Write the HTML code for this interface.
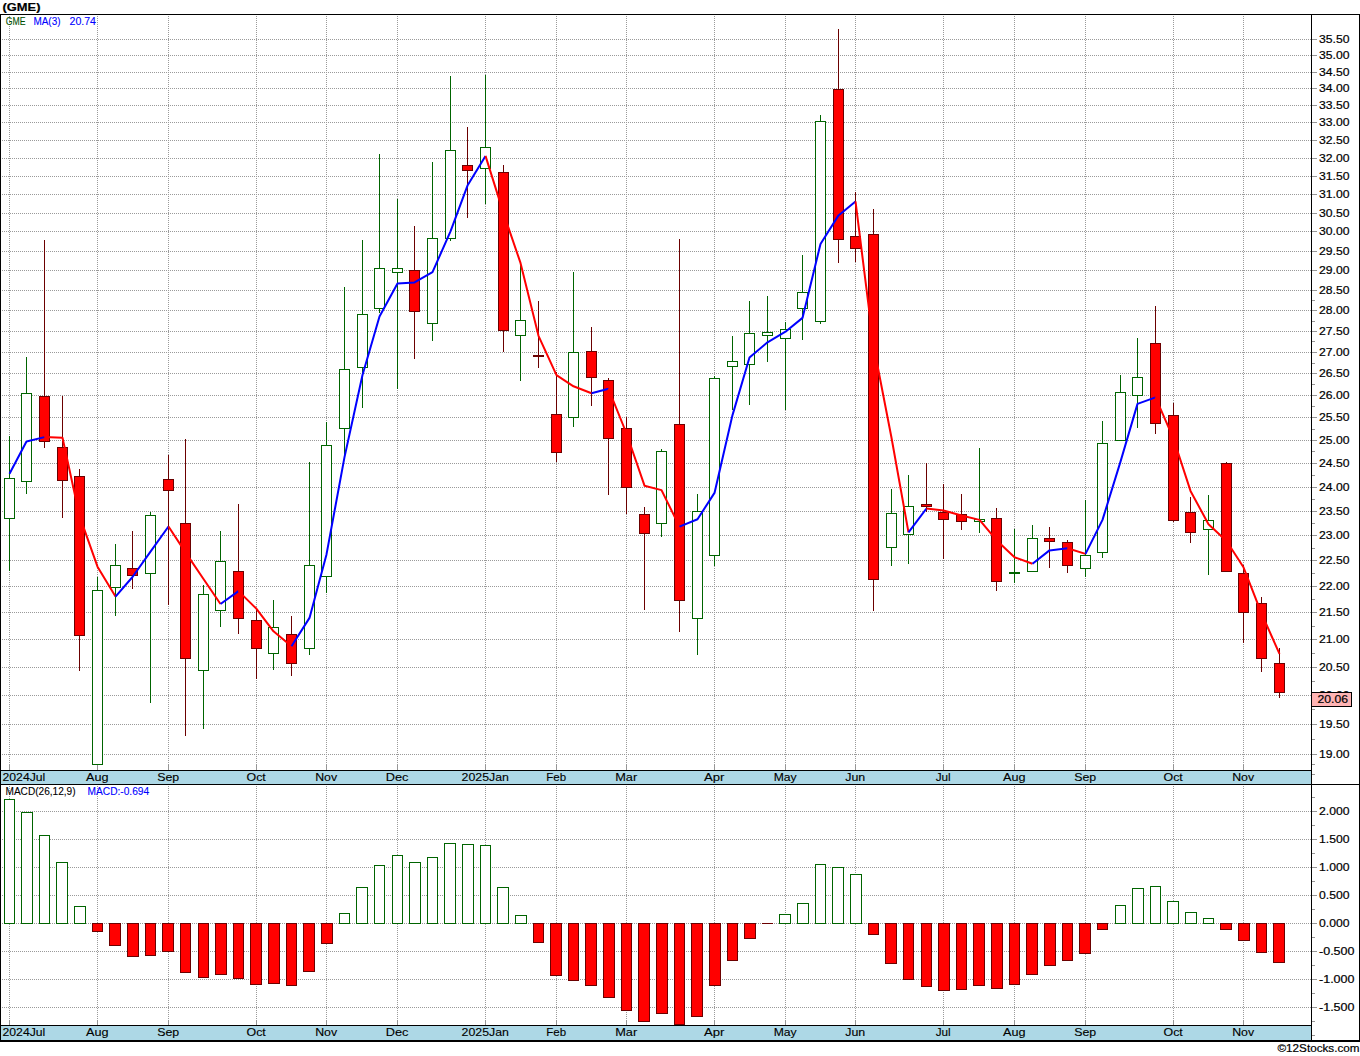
<!DOCTYPE html>
<html>
<head>
<meta charset="utf-8">
<title>GME chart</title>
<style>
html,body{margin:0;padding:0;background:#fff;}
body{width:1360px;height:1056px;overflow:hidden;}
svg{display:block;font-family:"Liberation Sans",sans-serif;}
.d{stroke:#9a9a9a;stroke-width:1;stroke-dasharray:1 1;fill:none;}
</style>
</head>
<body>
<svg width="1360" height="1056" viewBox="0 0 1360 1056">
<rect x="0" y="0" width="1360" height="1056" fill="#fff"/>
<g shape-rendering="crispEdges">
<line x1="2" y1="754.5" x2="1311" y2="754.5" class="d"/>
<line x1="2" y1="724.5" x2="1311" y2="724.5" class="d"/>
<line x1="2" y1="695.5" x2="1311" y2="695.5" class="d"/>
<line x1="2" y1="667.5" x2="1311" y2="667.5" class="d"/>
<line x1="2" y1="639.5" x2="1311" y2="639.5" class="d"/>
<line x1="2" y1="612.5" x2="1311" y2="612.5" class="d"/>
<line x1="2" y1="586.5" x2="1311" y2="586.5" class="d"/>
<line x1="2" y1="560.5" x2="1311" y2="560.5" class="d"/>
<line x1="2" y1="535.5" x2="1311" y2="535.5" class="d"/>
<line x1="2" y1="511.5" x2="1311" y2="511.5" class="d"/>
<line x1="2" y1="487.5" x2="1311" y2="487.5" class="d"/>
<line x1="2" y1="463.5" x2="1311" y2="463.5" class="d"/>
<line x1="2" y1="440.5" x2="1311" y2="440.5" class="d"/>
<line x1="2" y1="417.5" x2="1311" y2="417.5" class="d"/>
<line x1="2" y1="395.5" x2="1311" y2="395.5" class="d"/>
<line x1="2" y1="373.5" x2="1311" y2="373.5" class="d"/>
<line x1="2" y1="352.5" x2="1311" y2="352.5" class="d"/>
<line x1="2" y1="331.5" x2="1311" y2="331.5" class="d"/>
<line x1="2" y1="310.5" x2="1311" y2="310.5" class="d"/>
<line x1="2" y1="290.5" x2="1311" y2="290.5" class="d"/>
<line x1="2" y1="270.5" x2="1311" y2="270.5" class="d"/>
<line x1="2" y1="251.5" x2="1311" y2="251.5" class="d"/>
<line x1="2" y1="231.5" x2="1311" y2="231.5" class="d"/>
<line x1="2" y1="213.5" x2="1311" y2="213.5" class="d"/>
<line x1="2" y1="194.5" x2="1311" y2="194.5" class="d"/>
<line x1="2" y1="176.5" x2="1311" y2="176.5" class="d"/>
<line x1="2" y1="158.5" x2="1311" y2="158.5" class="d"/>
<line x1="2" y1="140.5" x2="1311" y2="140.5" class="d"/>
<line x1="2" y1="122.5" x2="1311" y2="122.5" class="d"/>
<line x1="2" y1="105.5" x2="1311" y2="105.5" class="d"/>
<line x1="2" y1="88.5" x2="1311" y2="88.5" class="d"/>
<line x1="2" y1="72.5" x2="1311" y2="72.5" class="d"/>
<line x1="2" y1="55.5" x2="1311" y2="55.5" class="d"/>
<line x1="2" y1="39.5" x2="1311" y2="39.5" class="d"/>
<line x1="2" y1="811.5" x2="1311" y2="811.5" class="d"/>
<line x1="2" y1="839.5" x2="1311" y2="839.5" class="d"/>
<line x1="2" y1="867.5" x2="1311" y2="867.5" class="d"/>
<line x1="2" y1="895.5" x2="1311" y2="895.5" class="d"/>
<line x1="2" y1="923.5" x2="1311" y2="923.5" class="d"/>
<line x1="2" y1="951.5" x2="1311" y2="951.5" class="d"/>
<line x1="2" y1="979.5" x2="1311" y2="979.5" class="d"/>
<line x1="2" y1="1007.5" x2="1311" y2="1007.5" class="d"/>
<line x1="9.5" y1="16" x2="9.5" y2="770" class="d"/>
<line x1="9.5" y1="786" x2="9.5" y2="1025" class="d"/>
<line x1="97.5" y1="16" x2="97.5" y2="770" class="d"/>
<line x1="97.5" y1="786" x2="97.5" y2="1025" class="d"/>
<line x1="168.5" y1="16" x2="168.5" y2="770" class="d"/>
<line x1="168.5" y1="786" x2="168.5" y2="1025" class="d"/>
<line x1="256.5" y1="16" x2="256.5" y2="770" class="d"/>
<line x1="256.5" y1="786" x2="256.5" y2="1025" class="d"/>
<line x1="326.5" y1="16" x2="326.5" y2="770" class="d"/>
<line x1="326.5" y1="786" x2="326.5" y2="1025" class="d"/>
<line x1="397.5" y1="16" x2="397.5" y2="770" class="d"/>
<line x1="397.5" y1="786" x2="397.5" y2="1025" class="d"/>
<line x1="485.5" y1="16" x2="485.5" y2="770" class="d"/>
<line x1="485.5" y1="786" x2="485.5" y2="1025" class="d"/>
<line x1="556.5" y1="16" x2="556.5" y2="770" class="d"/>
<line x1="556.5" y1="786" x2="556.5" y2="1025" class="d"/>
<line x1="626.5" y1="16" x2="626.5" y2="770" class="d"/>
<line x1="626.5" y1="786" x2="626.5" y2="1025" class="d"/>
<line x1="714.5" y1="16" x2="714.5" y2="770" class="d"/>
<line x1="714.5" y1="786" x2="714.5" y2="1025" class="d"/>
<line x1="785.5" y1="16" x2="785.5" y2="770" class="d"/>
<line x1="785.5" y1="786" x2="785.5" y2="1025" class="d"/>
<line x1="855.5" y1="16" x2="855.5" y2="770" class="d"/>
<line x1="855.5" y1="786" x2="855.5" y2="1025" class="d"/>
<line x1="943.5" y1="16" x2="943.5" y2="770" class="d"/>
<line x1="943.5" y1="786" x2="943.5" y2="1025" class="d"/>
<line x1="1014.5" y1="16" x2="1014.5" y2="770" class="d"/>
<line x1="1014.5" y1="786" x2="1014.5" y2="1025" class="d"/>
<line x1="1085.5" y1="16" x2="1085.5" y2="770" class="d"/>
<line x1="1085.5" y1="786" x2="1085.5" y2="1025" class="d"/>
<line x1="1173.5" y1="16" x2="1173.5" y2="770" class="d"/>
<line x1="1173.5" y1="786" x2="1173.5" y2="1025" class="d"/>
<line x1="1243.5" y1="16" x2="1243.5" y2="770" class="d"/>
<line x1="1243.5" y1="786" x2="1243.5" y2="1025" class="d"/>
</g>
<g shape-rendering="crispEdges">
<rect x="9" y="436" width="1" height="42" fill="#006400"/>
<rect x="9" y="519" width="1" height="52" fill="#006400"/>
<rect x="4.5" y="478.5" width="10" height="40" fill="#fff" stroke="#006400" stroke-width="1"/>
<rect x="26" y="357" width="1" height="36" fill="#006400"/>
<rect x="26" y="482" width="1" height="12" fill="#006400"/>
<rect x="21.5" y="393.5" width="10" height="88" fill="#fff" stroke="#006400" stroke-width="1"/>
<rect x="44" y="240" width="1" height="208" fill="#6b0000"/>
<rect x="39.5" y="396.5" width="10" height="45" fill="#ff0000" stroke="#6b0000" stroke-width="1"/>
<rect x="62" y="396" width="1" height="122" fill="#6b0000"/>
<rect x="57.5" y="447.5" width="10" height="33" fill="#ff0000" stroke="#6b0000" stroke-width="1"/>
<rect x="79" y="469" width="1" height="202" fill="#6b0000"/>
<rect x="74.5" y="476.5" width="10" height="159" fill="#ff0000" stroke="#6b0000" stroke-width="1"/>
<rect x="97" y="577" width="1" height="13" fill="#006400"/>
<rect x="97" y="765" width="1" height="5" fill="#006400"/>
<rect x="92.5" y="590.5" width="10" height="174" fill="#fff" stroke="#006400" stroke-width="1"/>
<rect x="115" y="544" width="1" height="21" fill="#006400"/>
<rect x="115" y="588" width="1" height="28" fill="#006400"/>
<rect x="110.5" y="565.5" width="10" height="22" fill="#fff" stroke="#006400" stroke-width="1"/>
<rect x="132" y="531" width="1" height="58" fill="#6b0000"/>
<rect x="127.5" y="568.5" width="10" height="7" fill="#ff0000" stroke="#6b0000" stroke-width="1"/>
<rect x="150" y="512" width="1" height="3" fill="#006400"/>
<rect x="150" y="574" width="1" height="129" fill="#006400"/>
<rect x="145.5" y="515.5" width="10" height="58" fill="#fff" stroke="#006400" stroke-width="1"/>
<rect x="168" y="455" width="1" height="150" fill="#6b0000"/>
<rect x="163.5" y="479.5" width="10" height="11" fill="#ff0000" stroke="#6b0000" stroke-width="1"/>
<rect x="185" y="439" width="1" height="297" fill="#6b0000"/>
<rect x="180.5" y="523.5" width="10" height="135" fill="#ff0000" stroke="#6b0000" stroke-width="1"/>
<rect x="203" y="585" width="1" height="9" fill="#006400"/>
<rect x="203" y="671" width="1" height="58" fill="#006400"/>
<rect x="198.5" y="594.5" width="10" height="76" fill="#fff" stroke="#006400" stroke-width="1"/>
<rect x="220" y="531" width="1" height="30" fill="#006400"/>
<rect x="220" y="611" width="1" height="16" fill="#006400"/>
<rect x="215.5" y="561.5" width="10" height="49" fill="#fff" stroke="#006400" stroke-width="1"/>
<rect x="238" y="504" width="1" height="130" fill="#6b0000"/>
<rect x="233.5" y="571.5" width="10" height="47" fill="#ff0000" stroke="#6b0000" stroke-width="1"/>
<rect x="256" y="610" width="1" height="69" fill="#6b0000"/>
<rect x="251.5" y="620.5" width="10" height="28" fill="#ff0000" stroke="#6b0000" stroke-width="1"/>
<rect x="273" y="600" width="1" height="27" fill="#006400"/>
<rect x="273" y="654" width="1" height="16" fill="#006400"/>
<rect x="268.5" y="627.5" width="10" height="26" fill="#fff" stroke="#006400" stroke-width="1"/>
<rect x="291" y="616" width="1" height="60" fill="#6b0000"/>
<rect x="286.5" y="634.5" width="10" height="29" fill="#ff0000" stroke="#6b0000" stroke-width="1"/>
<rect x="309" y="462" width="1" height="103" fill="#006400"/>
<rect x="309" y="649" width="1" height="6" fill="#006400"/>
<rect x="304.5" y="565.5" width="10" height="83" fill="#fff" stroke="#006400" stroke-width="1"/>
<rect x="326" y="422" width="1" height="23" fill="#006400"/>
<rect x="326" y="577" width="1" height="16" fill="#006400"/>
<rect x="321.5" y="445.5" width="10" height="131" fill="#fff" stroke="#006400" stroke-width="1"/>
<rect x="344" y="287" width="1" height="82" fill="#006400"/>
<rect x="344" y="429" width="1" height="29" fill="#006400"/>
<rect x="339.5" y="369.5" width="10" height="59" fill="#fff" stroke="#006400" stroke-width="1"/>
<rect x="362" y="240" width="1" height="74" fill="#006400"/>
<rect x="362" y="368" width="1" height="40" fill="#006400"/>
<rect x="357.5" y="314.5" width="10" height="53" fill="#fff" stroke="#006400" stroke-width="1"/>
<rect x="379" y="154" width="1" height="114" fill="#006400"/>
<rect x="379" y="309" width="1" height="4" fill="#006400"/>
<rect x="374.5" y="268.5" width="10" height="40" fill="#fff" stroke="#006400" stroke-width="1"/>
<rect x="397" y="199" width="1" height="69" fill="#006400"/>
<rect x="397" y="273" width="1" height="116" fill="#006400"/>
<rect x="392.5" y="268.5" width="10" height="4" fill="#fff" stroke="#006400" stroke-width="1"/>
<rect x="414" y="226" width="1" height="133" fill="#6b0000"/>
<rect x="409.5" y="270.5" width="10" height="41" fill="#ff0000" stroke="#6b0000" stroke-width="1"/>
<rect x="432" y="162" width="1" height="76" fill="#006400"/>
<rect x="432" y="324" width="1" height="17" fill="#006400"/>
<rect x="427.5" y="238.5" width="10" height="85" fill="#fff" stroke="#006400" stroke-width="1"/>
<rect x="450" y="76" width="1" height="74" fill="#006400"/>
<rect x="450" y="239" width="1" height="2" fill="#006400"/>
<rect x="445.5" y="150.5" width="10" height="88" fill="#fff" stroke="#006400" stroke-width="1"/>
<rect x="467" y="127" width="1" height="91" fill="#6b0000"/>
<rect x="462.5" y="165.5" width="10" height="5" fill="#ff0000" stroke="#6b0000" stroke-width="1"/>
<rect x="485" y="75" width="1" height="72" fill="#006400"/>
<rect x="485" y="169" width="1" height="35" fill="#006400"/>
<rect x="480.5" y="147.5" width="10" height="21" fill="#fff" stroke="#006400" stroke-width="1"/>
<rect x="503" y="165" width="1" height="187" fill="#6b0000"/>
<rect x="498.5" y="172.5" width="10" height="158" fill="#ff0000" stroke="#6b0000" stroke-width="1"/>
<rect x="520" y="262" width="1" height="58" fill="#006400"/>
<rect x="520" y="336" width="1" height="45" fill="#006400"/>
<rect x="515.5" y="320.5" width="10" height="15" fill="#fff" stroke="#006400" stroke-width="1"/>
<rect x="538" y="301" width="1" height="67" fill="#6b0000"/>
<rect x="533" y="355" width="11" height="2" fill="#6b0000"/>
<rect x="556" y="372" width="1" height="90" fill="#6b0000"/>
<rect x="551.5" y="414.5" width="10" height="38" fill="#ff0000" stroke="#6b0000" stroke-width="1"/>
<rect x="573" y="272" width="1" height="80" fill="#006400"/>
<rect x="573" y="418" width="1" height="9" fill="#006400"/>
<rect x="568.5" y="352.5" width="10" height="65" fill="#fff" stroke="#006400" stroke-width="1"/>
<rect x="591" y="327" width="1" height="79" fill="#6b0000"/>
<rect x="586.5" y="351.5" width="10" height="26" fill="#ff0000" stroke="#6b0000" stroke-width="1"/>
<rect x="608" y="378" width="1" height="117" fill="#6b0000"/>
<rect x="603.5" y="380.5" width="10" height="58" fill="#ff0000" stroke="#6b0000" stroke-width="1"/>
<rect x="626" y="417" width="1" height="97" fill="#6b0000"/>
<rect x="621.5" y="428.5" width="10" height="59" fill="#ff0000" stroke="#6b0000" stroke-width="1"/>
<rect x="644" y="507" width="1" height="103" fill="#6b0000"/>
<rect x="639.5" y="514.5" width="10" height="19" fill="#ff0000" stroke="#6b0000" stroke-width="1"/>
<rect x="661" y="449" width="1" height="2" fill="#006400"/>
<rect x="661" y="524" width="1" height="13" fill="#006400"/>
<rect x="656.5" y="451.5" width="10" height="72" fill="#fff" stroke="#006400" stroke-width="1"/>
<rect x="679" y="239" width="1" height="393" fill="#6b0000"/>
<rect x="674.5" y="424.5" width="10" height="176" fill="#ff0000" stroke="#6b0000" stroke-width="1"/>
<rect x="697" y="494" width="1" height="17" fill="#006400"/>
<rect x="697" y="619" width="1" height="36" fill="#006400"/>
<rect x="692.5" y="511.5" width="10" height="107" fill="#fff" stroke="#006400" stroke-width="1"/>
<rect x="714" y="376" width="1" height="2" fill="#006400"/>
<rect x="714" y="556" width="1" height="10" fill="#006400"/>
<rect x="709.5" y="378.5" width="10" height="177" fill="#fff" stroke="#006400" stroke-width="1"/>
<rect x="732" y="336" width="1" height="25" fill="#006400"/>
<rect x="732" y="367" width="1" height="43" fill="#006400"/>
<rect x="727.5" y="361.5" width="10" height="5" fill="#fff" stroke="#006400" stroke-width="1"/>
<rect x="749" y="301" width="1" height="32" fill="#006400"/>
<rect x="749" y="365" width="1" height="40" fill="#006400"/>
<rect x="744.5" y="333.5" width="10" height="31" fill="#fff" stroke="#006400" stroke-width="1"/>
<rect x="767" y="296" width="1" height="36" fill="#006400"/>
<rect x="767" y="336" width="1" height="26" fill="#006400"/>
<rect x="762.5" y="332.5" width="10" height="3" fill="#fff" stroke="#006400" stroke-width="1"/>
<rect x="785" y="322" width="1" height="7" fill="#006400"/>
<rect x="785" y="339" width="1" height="71" fill="#006400"/>
<rect x="780.5" y="329.5" width="10" height="9" fill="#fff" stroke="#006400" stroke-width="1"/>
<rect x="802" y="255" width="1" height="37" fill="#006400"/>
<rect x="802" y="309" width="1" height="31" fill="#006400"/>
<rect x="797.5" y="292.5" width="10" height="16" fill="#fff" stroke="#006400" stroke-width="1"/>
<rect x="820" y="115" width="1" height="6" fill="#006400"/>
<rect x="820" y="322" width="1" height="2" fill="#006400"/>
<rect x="815.5" y="121.5" width="10" height="200" fill="#fff" stroke="#006400" stroke-width="1"/>
<rect x="838" y="29" width="1" height="234" fill="#6b0000"/>
<rect x="833.5" y="89.5" width="10" height="150" fill="#ff0000" stroke="#6b0000" stroke-width="1"/>
<rect x="855" y="192" width="1" height="70" fill="#6b0000"/>
<rect x="850.5" y="236.5" width="10" height="12" fill="#ff0000" stroke="#6b0000" stroke-width="1"/>
<rect x="873" y="209" width="1" height="402" fill="#6b0000"/>
<rect x="868.5" y="234.5" width="10" height="345" fill="#ff0000" stroke="#6b0000" stroke-width="1"/>
<rect x="891" y="489" width="1" height="24" fill="#006400"/>
<rect x="891" y="548" width="1" height="18" fill="#006400"/>
<rect x="886.5" y="513.5" width="10" height="34" fill="#fff" stroke="#006400" stroke-width="1"/>
<rect x="908" y="475" width="1" height="31" fill="#006400"/>
<rect x="908" y="535" width="1" height="29" fill="#006400"/>
<rect x="903.5" y="506.5" width="10" height="28" fill="#fff" stroke="#006400" stroke-width="1"/>
<rect x="926" y="463" width="1" height="49" fill="#6b0000"/>
<rect x="921.5" y="504.5" width="10" height="2" fill="#ff0000" stroke="#6b0000" stroke-width="1"/>
<rect x="943" y="484" width="1" height="75" fill="#6b0000"/>
<rect x="938.5" y="512.5" width="10" height="7" fill="#ff0000" stroke="#6b0000" stroke-width="1"/>
<rect x="961" y="494" width="1" height="36" fill="#6b0000"/>
<rect x="956.5" y="514.5" width="10" height="7" fill="#ff0000" stroke="#6b0000" stroke-width="1"/>
<rect x="979" y="448" width="1" height="71" fill="#006400"/>
<rect x="979" y="522" width="1" height="11" fill="#006400"/>
<rect x="974.5" y="519.5" width="10" height="2" fill="#fff" stroke="#006400" stroke-width="1"/>
<rect x="996" y="508" width="1" height="83" fill="#6b0000"/>
<rect x="991.5" y="518.5" width="10" height="63" fill="#ff0000" stroke="#6b0000" stroke-width="1"/>
<rect x="1014" y="529" width="1" height="43" fill="#006400"/>
<rect x="1014" y="574" width="1" height="9" fill="#006400"/>
<rect x="1009" y="572" width="11" height="2" fill="#006400"/>
<rect x="1032" y="525" width="1" height="13" fill="#006400"/>
<rect x="1027.5" y="538.5" width="10" height="33" fill="#fff" stroke="#006400" stroke-width="1"/>
<rect x="1049" y="527" width="1" height="41" fill="#6b0000"/>
<rect x="1044.5" y="538.5" width="10" height="3" fill="#ff0000" stroke="#6b0000" stroke-width="1"/>
<rect x="1067" y="540" width="1" height="33" fill="#6b0000"/>
<rect x="1062.5" y="542.5" width="10" height="23" fill="#ff0000" stroke="#6b0000" stroke-width="1"/>
<rect x="1085" y="500" width="1" height="55" fill="#006400"/>
<rect x="1085" y="569" width="1" height="8" fill="#006400"/>
<rect x="1080.5" y="555.5" width="10" height="13" fill="#fff" stroke="#006400" stroke-width="1"/>
<rect x="1102" y="421" width="1" height="22" fill="#006400"/>
<rect x="1102" y="553" width="1" height="5" fill="#006400"/>
<rect x="1097.5" y="443.5" width="10" height="109" fill="#fff" stroke="#006400" stroke-width="1"/>
<rect x="1120" y="375" width="1" height="17" fill="#006400"/>
<rect x="1115.5" y="392.5" width="10" height="48" fill="#fff" stroke="#006400" stroke-width="1"/>
<rect x="1137" y="338" width="1" height="39" fill="#006400"/>
<rect x="1137" y="396" width="1" height="32" fill="#006400"/>
<rect x="1132.5" y="377.5" width="10" height="18" fill="#fff" stroke="#006400" stroke-width="1"/>
<rect x="1155" y="306" width="1" height="128" fill="#6b0000"/>
<rect x="1150.5" y="343.5" width="10" height="80" fill="#ff0000" stroke="#6b0000" stroke-width="1"/>
<rect x="1173" y="403" width="1" height="119" fill="#6b0000"/>
<rect x="1168.5" y="415.5" width="10" height="105" fill="#ff0000" stroke="#6b0000" stroke-width="1"/>
<rect x="1190" y="497" width="1" height="46" fill="#6b0000"/>
<rect x="1185.5" y="512.5" width="10" height="20" fill="#ff0000" stroke="#6b0000" stroke-width="1"/>
<rect x="1208" y="495" width="1" height="25" fill="#006400"/>
<rect x="1208" y="530" width="1" height="45" fill="#006400"/>
<rect x="1203.5" y="520.5" width="10" height="9" fill="#fff" stroke="#006400" stroke-width="1"/>
<rect x="1226" y="462" width="1" height="110" fill="#6b0000"/>
<rect x="1221.5" y="463.5" width="10" height="108" fill="#ff0000" stroke="#6b0000" stroke-width="1"/>
<rect x="1243" y="565" width="1" height="78" fill="#6b0000"/>
<rect x="1238.5" y="573.5" width="10" height="39" fill="#ff0000" stroke="#6b0000" stroke-width="1"/>
<rect x="1261" y="597" width="1" height="75" fill="#6b0000"/>
<rect x="1256.5" y="603.5" width="10" height="55" fill="#ff0000" stroke="#6b0000" stroke-width="1"/>
<rect x="1279" y="648" width="1" height="50" fill="#6b0000"/>
<rect x="1274.5" y="663.5" width="10" height="29" fill="#ff0000" stroke="#6b0000" stroke-width="1"/>
</g>
<polyline points="9.5,473.8 26.5,441.5 44.5,437.1" fill="none" stroke="#0000ff" stroke-width="2" stroke-linejoin="round" stroke-linecap="butt"/>
<polyline points="44.5,437.1 62.5,437.7 79.5,515.9 97.5,566.7 115.5,596.6" fill="none" stroke="#ff0000" stroke-width="2" stroke-linejoin="round" stroke-linecap="butt"/>
<polyline points="115.5,596.6 132.5,577.0 150.5,551.7 168.5,526.5" fill="none" stroke="#0000ff" stroke-width="2" stroke-linejoin="round" stroke-linecap="butt"/>
<polyline points="168.5,526.5 185.5,552.4 203.5,579.0 220.5,604.0" fill="none" stroke="#ff0000" stroke-width="2" stroke-linejoin="round" stroke-linecap="butt"/>
<polyline points="220.5,604.0 238.5,591.1" fill="none" stroke="#0000ff" stroke-width="2" stroke-linejoin="round" stroke-linecap="butt"/>
<polyline points="238.5,591.1 256.5,608.8 273.5,631.3 291.5,646.2" fill="none" stroke="#ff0000" stroke-width="2" stroke-linejoin="round" stroke-linecap="butt"/>
<polyline points="291.5,646.2 309.5,617.9 326.5,554.4 344.5,457.1 362.5,375.0 379.5,316.5 397.5,283.4 414.5,282.4 432.5,272.2 450.5,231.4 467.5,185.6 485.5,155.9" fill="none" stroke="#0000ff" stroke-width="2" stroke-linejoin="round" stroke-linecap="butt"/>
<polyline points="485.5,155.9 503.5,213.1 520.5,262.9 538.5,335.8 556.5,375.2 573.5,386.3 591.5,393.3" fill="none" stroke="#ff0000" stroke-width="2" stroke-linejoin="round" stroke-linecap="butt"/>
<polyline points="591.5,393.3 608.5,388.8" fill="none" stroke="#0000ff" stroke-width="2" stroke-linejoin="round" stroke-linecap="butt"/>
<polyline points="608.5,388.8 626.5,433.5 644.5,485.7 661.5,490.1 679.5,526.6" fill="none" stroke="#ff0000" stroke-width="2" stroke-linejoin="round" stroke-linecap="butt"/>
<polyline points="679.5,526.6 697.5,519.3 714.5,492.9 732.5,415.1 749.5,357.5 767.5,342.3 785.5,331.7 802.5,317.9 820.5,244.0 838.5,215.4 855.5,201.4" fill="none" stroke="#0000ff" stroke-width="2" stroke-linejoin="round" stroke-linecap="butt"/>
<polyline points="855.5,201.4 873.5,345.0 891.5,437.8 908.5,532.4" fill="none" stroke="#ff0000" stroke-width="2" stroke-linejoin="round" stroke-linecap="butt"/>
<polyline points="908.5,532.4 926.5,508.5" fill="none" stroke="#0000ff" stroke-width="2" stroke-linejoin="round" stroke-linecap="butt"/>
<polyline points="926.5,508.5 943.5,510.5 961.5,515.5 979.5,519.9 996.5,540.2 1014.5,557.2 1032.5,563.7" fill="none" stroke="#ff0000" stroke-width="2" stroke-linejoin="round" stroke-linecap="butt"/>
<polyline points="1032.5,563.7 1049.5,550.4 1067.5,548.2" fill="none" stroke="#0000ff" stroke-width="2" stroke-linejoin="round" stroke-linecap="butt"/>
<polyline points="1067.5,548.2 1085.5,553.9" fill="none" stroke="#ff0000" stroke-width="2" stroke-linejoin="round" stroke-linecap="butt"/>
<polyline points="1085.5,553.9 1102.5,519.9 1120.5,461.6 1137.5,403.9 1155.5,397.4" fill="none" stroke="#0000ff" stroke-width="2" stroke-linejoin="round" stroke-linecap="butt"/>
<polyline points="1155.5,397.4 1173.5,438.7 1190.5,490.9 1208.5,524.2 1226.5,541.0 1243.5,567.3 1261.5,613.4 1279.5,653.8" fill="none" stroke="#ff0000" stroke-width="2" stroke-linejoin="round" stroke-linecap="butt"/>
<g shape-rendering="crispEdges">
<rect x="4.5" y="799.5" width="10" height="124" fill="#fff" stroke="#006400" stroke-width="1"/>
<rect x="21.5" y="812.5" width="11" height="111" fill="#fff" stroke="#006400" stroke-width="1"/>
<rect x="39.5" y="835.5" width="10" height="88" fill="#fff" stroke="#006400" stroke-width="1"/>
<rect x="56.5" y="862.5" width="11" height="61" fill="#fff" stroke="#006400" stroke-width="1"/>
<rect x="74.5" y="906.5" width="11" height="17" fill="#fff" stroke="#006400" stroke-width="1"/>
<rect x="92.5" y="923.5" width="10" height="8" fill="#ff0000" stroke="#6b0000" stroke-width="1"/>
<rect x="109.5" y="923.5" width="11" height="22" fill="#ff0000" stroke="#6b0000" stroke-width="1"/>
<rect x="127.5" y="923.5" width="11" height="33" fill="#ff0000" stroke="#6b0000" stroke-width="1"/>
<rect x="145.5" y="923.5" width="10" height="32" fill="#ff0000" stroke="#6b0000" stroke-width="1"/>
<rect x="162.5" y="923.5" width="11" height="28" fill="#ff0000" stroke="#6b0000" stroke-width="1"/>
<rect x="180.5" y="923.5" width="10" height="49" fill="#ff0000" stroke="#6b0000" stroke-width="1"/>
<rect x="198.5" y="923.5" width="10" height="54" fill="#ff0000" stroke="#6b0000" stroke-width="1"/>
<rect x="215.5" y="923.5" width="11" height="51" fill="#ff0000" stroke="#6b0000" stroke-width="1"/>
<rect x="233.5" y="923.5" width="10" height="55" fill="#ff0000" stroke="#6b0000" stroke-width="1"/>
<rect x="250.5" y="923.5" width="11" height="61" fill="#ff0000" stroke="#6b0000" stroke-width="1"/>
<rect x="268.5" y="923.5" width="11" height="60" fill="#ff0000" stroke="#6b0000" stroke-width="1"/>
<rect x="286.5" y="923.5" width="10" height="62" fill="#ff0000" stroke="#6b0000" stroke-width="1"/>
<rect x="303.5" y="923.5" width="11" height="48" fill="#ff0000" stroke="#6b0000" stroke-width="1"/>
<rect x="321.5" y="923.5" width="11" height="20" fill="#ff0000" stroke="#6b0000" stroke-width="1"/>
<rect x="339.5" y="913.5" width="10" height="10" fill="#fff" stroke="#006400" stroke-width="1"/>
<rect x="356.5" y="887.5" width="11" height="36" fill="#fff" stroke="#006400" stroke-width="1"/>
<rect x="374.5" y="865.5" width="10" height="58" fill="#fff" stroke="#006400" stroke-width="1"/>
<rect x="392.5" y="855.5" width="10" height="68" fill="#fff" stroke="#006400" stroke-width="1"/>
<rect x="409.5" y="862.5" width="11" height="61" fill="#fff" stroke="#006400" stroke-width="1"/>
<rect x="427.5" y="857.5" width="10" height="66" fill="#fff" stroke="#006400" stroke-width="1"/>
<rect x="444.5" y="843.5" width="11" height="80" fill="#fff" stroke="#006400" stroke-width="1"/>
<rect x="462.5" y="844.5" width="11" height="79" fill="#fff" stroke="#006400" stroke-width="1"/>
<rect x="480.5" y="845.5" width="10" height="78" fill="#fff" stroke="#006400" stroke-width="1"/>
<rect x="497.5" y="887.5" width="11" height="36" fill="#fff" stroke="#006400" stroke-width="1"/>
<rect x="515.5" y="915.5" width="11" height="8" fill="#fff" stroke="#006400" stroke-width="1"/>
<rect x="533.5" y="923.5" width="10" height="19" fill="#ff0000" stroke="#6b0000" stroke-width="1"/>
<rect x="550.5" y="923.5" width="11" height="52" fill="#ff0000" stroke="#6b0000" stroke-width="1"/>
<rect x="568.5" y="923.5" width="10" height="57" fill="#ff0000" stroke="#6b0000" stroke-width="1"/>
<rect x="585.5" y="923.5" width="11" height="62" fill="#ff0000" stroke="#6b0000" stroke-width="1"/>
<rect x="603.5" y="923.5" width="11" height="74" fill="#ff0000" stroke="#6b0000" stroke-width="1"/>
<rect x="621.5" y="923.5" width="10" height="87" fill="#ff0000" stroke="#6b0000" stroke-width="1"/>
<rect x="638.5" y="923.5" width="11" height="98" fill="#ff0000" stroke="#6b0000" stroke-width="1"/>
<rect x="656.5" y="923.5" width="11" height="90" fill="#ff0000" stroke="#6b0000" stroke-width="1"/>
<rect x="674.5" y="923.5" width="10" height="101" fill="#ff0000" stroke="#6b0000" stroke-width="1"/>
<rect x="691.5" y="923.5" width="11" height="93" fill="#ff0000" stroke="#6b0000" stroke-width="1"/>
<rect x="709.5" y="923.5" width="11" height="62" fill="#ff0000" stroke="#6b0000" stroke-width="1"/>
<rect x="727.5" y="923.5" width="10" height="37" fill="#ff0000" stroke="#6b0000" stroke-width="1"/>
<rect x="744.5" y="923.5" width="11" height="15" fill="#ff0000" stroke="#6b0000" stroke-width="1"/>
<rect x="762" y="923" width="11" height="1" fill="#6b0000"/>
<rect x="779.5" y="914.5" width="11" height="9" fill="#fff" stroke="#006400" stroke-width="1"/>
<rect x="797.5" y="903.5" width="11" height="20" fill="#fff" stroke="#006400" stroke-width="1"/>
<rect x="815.5" y="864.5" width="10" height="59" fill="#fff" stroke="#006400" stroke-width="1"/>
<rect x="832.5" y="867.5" width="11" height="56" fill="#fff" stroke="#006400" stroke-width="1"/>
<rect x="850.5" y="874.5" width="11" height="49" fill="#fff" stroke="#006400" stroke-width="1"/>
<rect x="868.5" y="923.5" width="10" height="11" fill="#ff0000" stroke="#6b0000" stroke-width="1"/>
<rect x="885.5" y="923.5" width="11" height="40" fill="#ff0000" stroke="#6b0000" stroke-width="1"/>
<rect x="903.5" y="923.5" width="10" height="56" fill="#ff0000" stroke="#6b0000" stroke-width="1"/>
<rect x="921.5" y="923.5" width="10" height="63" fill="#ff0000" stroke="#6b0000" stroke-width="1"/>
<rect x="938.5" y="923.5" width="11" height="67" fill="#ff0000" stroke="#6b0000" stroke-width="1"/>
<rect x="956.5" y="923.5" width="10" height="66" fill="#ff0000" stroke="#6b0000" stroke-width="1"/>
<rect x="973.5" y="923.5" width="11" height="62" fill="#ff0000" stroke="#6b0000" stroke-width="1"/>
<rect x="991.5" y="923.5" width="11" height="65" fill="#ff0000" stroke="#6b0000" stroke-width="1"/>
<rect x="1009.5" y="923.5" width="10" height="61" fill="#ff0000" stroke="#6b0000" stroke-width="1"/>
<rect x="1026.5" y="923.5" width="11" height="51" fill="#ff0000" stroke="#6b0000" stroke-width="1"/>
<rect x="1044.5" y="923.5" width="11" height="42" fill="#ff0000" stroke="#6b0000" stroke-width="1"/>
<rect x="1062.5" y="923.5" width="10" height="37" fill="#ff0000" stroke="#6b0000" stroke-width="1"/>
<rect x="1079.5" y="923.5" width="11" height="30" fill="#ff0000" stroke="#6b0000" stroke-width="1"/>
<rect x="1097.5" y="923.5" width="10" height="6" fill="#ff0000" stroke="#6b0000" stroke-width="1"/>
<rect x="1115.5" y="905.5" width="10" height="18" fill="#fff" stroke="#006400" stroke-width="1"/>
<rect x="1132.5" y="888.5" width="11" height="35" fill="#fff" stroke="#006400" stroke-width="1"/>
<rect x="1150.5" y="886.5" width="10" height="37" fill="#fff" stroke="#006400" stroke-width="1"/>
<rect x="1167.5" y="901.5" width="11" height="22" fill="#fff" stroke="#006400" stroke-width="1"/>
<rect x="1185.5" y="912.5" width="11" height="11" fill="#fff" stroke="#006400" stroke-width="1"/>
<rect x="1203.5" y="918.5" width="10" height="5" fill="#fff" stroke="#006400" stroke-width="1"/>
<rect x="1220.5" y="923.5" width="11" height="6" fill="#ff0000" stroke="#6b0000" stroke-width="1"/>
<rect x="1238.5" y="923.5" width="11" height="17" fill="#ff0000" stroke="#6b0000" stroke-width="1"/>
<rect x="1256.5" y="923.5" width="10" height="29" fill="#ff0000" stroke="#6b0000" stroke-width="1"/>
<rect x="1273.5" y="923.5" width="11" height="39" fill="#ff0000" stroke="#6b0000" stroke-width="1"/>
</g>
<g shape-rendering="crispEdges">
<rect x="1" y="771" width="1310" height="13" fill="#add8e6"/>
<rect x="1" y="1026" width="1310" height="14" fill="#add8e6"/>
<rect x="0" y="14" width="1360" height="1" fill="#000"/>
<rect x="0" y="14" width="1" height="1028" fill="#000"/>
<rect x="1359" y="14" width="1" height="1028" fill="#000"/>
<rect x="1311" y="14" width="1" height="1027" fill="#000"/>
<rect x="0" y="770" width="1312" height="1" fill="#000"/>
<rect x="0" y="784" width="1360" height="1" fill="#000"/>
<rect x="0" y="1025" width="1312" height="1" fill="#000"/>
<rect x="0" y="1040" width="1360" height="2" fill="#000"/>
<rect x="9" y="765" width="1" height="5" fill="#969696"/>
<rect x="9" y="1020" width="1" height="5" fill="#969696"/>
<rect x="97" y="765" width="1" height="5" fill="#969696"/>
<rect x="97" y="1020" width="1" height="5" fill="#969696"/>
<rect x="168" y="765" width="1" height="5" fill="#969696"/>
<rect x="168" y="1020" width="1" height="5" fill="#969696"/>
<rect x="256" y="765" width="1" height="5" fill="#969696"/>
<rect x="256" y="1020" width="1" height="5" fill="#969696"/>
<rect x="326" y="765" width="1" height="5" fill="#969696"/>
<rect x="326" y="1020" width="1" height="5" fill="#969696"/>
<rect x="397" y="765" width="1" height="5" fill="#969696"/>
<rect x="397" y="1020" width="1" height="5" fill="#969696"/>
<rect x="485" y="765" width="1" height="5" fill="#969696"/>
<rect x="485" y="1020" width="1" height="5" fill="#969696"/>
<rect x="556" y="765" width="1" height="5" fill="#969696"/>
<rect x="556" y="1020" width="1" height="5" fill="#969696"/>
<rect x="626" y="765" width="1" height="5" fill="#969696"/>
<rect x="626" y="1020" width="1" height="5" fill="#969696"/>
<rect x="714" y="765" width="1" height="5" fill="#969696"/>
<rect x="714" y="1020" width="1" height="5" fill="#969696"/>
<rect x="785" y="765" width="1" height="5" fill="#969696"/>
<rect x="785" y="1020" width="1" height="5" fill="#969696"/>
<rect x="855" y="765" width="1" height="5" fill="#969696"/>
<rect x="855" y="1020" width="1" height="5" fill="#969696"/>
<rect x="943" y="765" width="1" height="5" fill="#969696"/>
<rect x="943" y="1020" width="1" height="5" fill="#969696"/>
<rect x="1014" y="765" width="1" height="5" fill="#969696"/>
<rect x="1014" y="1020" width="1" height="5" fill="#969696"/>
<rect x="1085" y="765" width="1" height="5" fill="#969696"/>
<rect x="1085" y="1020" width="1" height="5" fill="#969696"/>
<rect x="1173" y="765" width="1" height="5" fill="#969696"/>
<rect x="1173" y="1020" width="1" height="5" fill="#969696"/>
<rect x="1243" y="765" width="1" height="5" fill="#969696"/>
<rect x="1243" y="1020" width="1" height="5" fill="#969696"/>
<rect x="1312" y="754" width="5" height="1" fill="#969696"/>
<rect x="1312" y="724" width="5" height="1" fill="#969696"/>
<rect x="1312" y="695" width="5" height="1" fill="#969696"/>
<rect x="1312" y="667" width="5" height="1" fill="#969696"/>
<rect x="1312" y="639" width="5" height="1" fill="#969696"/>
<rect x="1312" y="612" width="5" height="1" fill="#969696"/>
<rect x="1312" y="586" width="5" height="1" fill="#969696"/>
<rect x="1312" y="560" width="5" height="1" fill="#969696"/>
<rect x="1312" y="535" width="5" height="1" fill="#969696"/>
<rect x="1312" y="511" width="5" height="1" fill="#969696"/>
<rect x="1312" y="487" width="5" height="1" fill="#969696"/>
<rect x="1312" y="463" width="5" height="1" fill="#969696"/>
<rect x="1312" y="440" width="5" height="1" fill="#969696"/>
<rect x="1312" y="417" width="5" height="1" fill="#969696"/>
<rect x="1312" y="395" width="5" height="1" fill="#969696"/>
<rect x="1312" y="373" width="5" height="1" fill="#969696"/>
<rect x="1312" y="352" width="5" height="1" fill="#969696"/>
<rect x="1312" y="331" width="5" height="1" fill="#969696"/>
<rect x="1312" y="310" width="5" height="1" fill="#969696"/>
<rect x="1312" y="290" width="5" height="1" fill="#969696"/>
<rect x="1312" y="270" width="5" height="1" fill="#969696"/>
<rect x="1312" y="251" width="5" height="1" fill="#969696"/>
<rect x="1312" y="231" width="5" height="1" fill="#969696"/>
<rect x="1312" y="213" width="5" height="1" fill="#969696"/>
<rect x="1312" y="194" width="5" height="1" fill="#969696"/>
<rect x="1312" y="176" width="5" height="1" fill="#969696"/>
<rect x="1312" y="158" width="5" height="1" fill="#969696"/>
<rect x="1312" y="140" width="5" height="1" fill="#969696"/>
<rect x="1312" y="122" width="5" height="1" fill="#969696"/>
<rect x="1312" y="105" width="5" height="1" fill="#969696"/>
<rect x="1312" y="88" width="5" height="1" fill="#969696"/>
<rect x="1312" y="72" width="5" height="1" fill="#969696"/>
<rect x="1312" y="55" width="5" height="1" fill="#969696"/>
<rect x="1312" y="39" width="5" height="1" fill="#969696"/>
<rect x="1312" y="739" width="3" height="1" fill="#969696"/>
<rect x="1312" y="709" width="3" height="1" fill="#969696"/>
<rect x="1312" y="681" width="3" height="1" fill="#969696"/>
<rect x="1312" y="653" width="3" height="1" fill="#969696"/>
<rect x="1312" y="626" width="3" height="1" fill="#969696"/>
<rect x="1312" y="599" width="3" height="1" fill="#969696"/>
<rect x="1312" y="573" width="3" height="1" fill="#969696"/>
<rect x="1312" y="548" width="3" height="1" fill="#969696"/>
<rect x="1312" y="523" width="3" height="1" fill="#969696"/>
<rect x="1312" y="499" width="3" height="1" fill="#969696"/>
<rect x="1312" y="475" width="3" height="1" fill="#969696"/>
<rect x="1312" y="451" width="3" height="1" fill="#969696"/>
<rect x="1312" y="429" width="3" height="1" fill="#969696"/>
<rect x="1312" y="406" width="3" height="1" fill="#969696"/>
<rect x="1312" y="384" width="3" height="1" fill="#969696"/>
<rect x="1312" y="363" width="3" height="1" fill="#969696"/>
<rect x="1312" y="341" width="3" height="1" fill="#969696"/>
<rect x="1312" y="321" width="3" height="1" fill="#969696"/>
<rect x="1312" y="300" width="3" height="1" fill="#969696"/>
<rect x="1312" y="764" width="3" height="1" fill="#969696"/>
<rect x="1312" y="774" width="3" height="1" fill="#969696"/>
<rect x="1312" y="811" width="5" height="1" fill="#969696"/>
<rect x="1312" y="839" width="5" height="1" fill="#969696"/>
<rect x="1312" y="867" width="5" height="1" fill="#969696"/>
<rect x="1312" y="895" width="5" height="1" fill="#969696"/>
<rect x="1312" y="923" width="5" height="1" fill="#969696"/>
<rect x="1312" y="951" width="5" height="1" fill="#969696"/>
<rect x="1312" y="979" width="5" height="1" fill="#969696"/>
<rect x="1312" y="1007" width="5" height="1" fill="#969696"/>
<rect x="1312" y="797" width="3" height="1" fill="#969696"/>
<rect x="1312" y="825" width="3" height="1" fill="#969696"/>
<rect x="1312" y="853" width="3" height="1" fill="#969696"/>
<rect x="1312" y="881" width="3" height="1" fill="#969696"/>
<rect x="1312" y="909" width="3" height="1" fill="#969696"/>
<rect x="1312" y="937" width="3" height="1" fill="#969696"/>
<rect x="1312" y="965" width="3" height="1" fill="#969696"/>
<rect x="1312" y="993" width="3" height="1" fill="#969696"/>
<rect x="1312" y="1021" width="3" height="1" fill="#969696"/>
<rect x="1312" y="1035" width="3" height="1" fill="#969696"/>
</g>
<text x="1319" y="758" font-size="11.2" fill="#000" stroke="#000" stroke-width="0.2" textLength="30.5" lengthAdjust="spacingAndGlyphs">19.00</text>
<text x="1319" y="728" font-size="11.2" fill="#000" stroke="#000" stroke-width="0.2" textLength="30.5" lengthAdjust="spacingAndGlyphs">19.50</text>
<text x="1319" y="699" font-size="11.2" fill="#000" stroke="#000" stroke-width="0.2" textLength="30.5" lengthAdjust="spacingAndGlyphs">20.00</text>
<text x="1319" y="671" font-size="11.2" fill="#000" stroke="#000" stroke-width="0.2" textLength="30.5" lengthAdjust="spacingAndGlyphs">20.50</text>
<text x="1319" y="643" font-size="11.2" fill="#000" stroke="#000" stroke-width="0.2" textLength="30.5" lengthAdjust="spacingAndGlyphs">21.00</text>
<text x="1319" y="616" font-size="11.2" fill="#000" stroke="#000" stroke-width="0.2" textLength="30.5" lengthAdjust="spacingAndGlyphs">21.50</text>
<text x="1319" y="590" font-size="11.2" fill="#000" stroke="#000" stroke-width="0.2" textLength="30.5" lengthAdjust="spacingAndGlyphs">22.00</text>
<text x="1319" y="564" font-size="11.2" fill="#000" stroke="#000" stroke-width="0.2" textLength="30.5" lengthAdjust="spacingAndGlyphs">22.50</text>
<text x="1319" y="539" font-size="11.2" fill="#000" stroke="#000" stroke-width="0.2" textLength="30.5" lengthAdjust="spacingAndGlyphs">23.00</text>
<text x="1319" y="515" font-size="11.2" fill="#000" stroke="#000" stroke-width="0.2" textLength="30.5" lengthAdjust="spacingAndGlyphs">23.50</text>
<text x="1319" y="491" font-size="11.2" fill="#000" stroke="#000" stroke-width="0.2" textLength="30.5" lengthAdjust="spacingAndGlyphs">24.00</text>
<text x="1319" y="467" font-size="11.2" fill="#000" stroke="#000" stroke-width="0.2" textLength="30.5" lengthAdjust="spacingAndGlyphs">24.50</text>
<text x="1319" y="444" font-size="11.2" fill="#000" stroke="#000" stroke-width="0.2" textLength="30.5" lengthAdjust="spacingAndGlyphs">25.00</text>
<text x="1319" y="421" font-size="11.2" fill="#000" stroke="#000" stroke-width="0.2" textLength="30.5" lengthAdjust="spacingAndGlyphs">25.50</text>
<text x="1319" y="399" font-size="11.2" fill="#000" stroke="#000" stroke-width="0.2" textLength="30.5" lengthAdjust="spacingAndGlyphs">26.00</text>
<text x="1319" y="377" font-size="11.2" fill="#000" stroke="#000" stroke-width="0.2" textLength="30.5" lengthAdjust="spacingAndGlyphs">26.50</text>
<text x="1319" y="356" font-size="11.2" fill="#000" stroke="#000" stroke-width="0.2" textLength="30.5" lengthAdjust="spacingAndGlyphs">27.00</text>
<text x="1319" y="335" font-size="11.2" fill="#000" stroke="#000" stroke-width="0.2" textLength="30.5" lengthAdjust="spacingAndGlyphs">27.50</text>
<text x="1319" y="314" font-size="11.2" fill="#000" stroke="#000" stroke-width="0.2" textLength="30.5" lengthAdjust="spacingAndGlyphs">28.00</text>
<text x="1319" y="294" font-size="11.2" fill="#000" stroke="#000" stroke-width="0.2" textLength="30.5" lengthAdjust="spacingAndGlyphs">28.50</text>
<text x="1319" y="274" font-size="11.2" fill="#000" stroke="#000" stroke-width="0.2" textLength="30.5" lengthAdjust="spacingAndGlyphs">29.00</text>
<text x="1319" y="255" font-size="11.2" fill="#000" stroke="#000" stroke-width="0.2" textLength="30.5" lengthAdjust="spacingAndGlyphs">29.50</text>
<text x="1319" y="235" font-size="11.2" fill="#000" stroke="#000" stroke-width="0.2" textLength="30.5" lengthAdjust="spacingAndGlyphs">30.00</text>
<text x="1319" y="217" font-size="11.2" fill="#000" stroke="#000" stroke-width="0.2" textLength="30.5" lengthAdjust="spacingAndGlyphs">30.50</text>
<text x="1319" y="198" font-size="11.2" fill="#000" stroke="#000" stroke-width="0.2" textLength="30.5" lengthAdjust="spacingAndGlyphs">31.00</text>
<text x="1319" y="180" font-size="11.2" fill="#000" stroke="#000" stroke-width="0.2" textLength="30.5" lengthAdjust="spacingAndGlyphs">31.50</text>
<text x="1319" y="162" font-size="11.2" fill="#000" stroke="#000" stroke-width="0.2" textLength="30.5" lengthAdjust="spacingAndGlyphs">32.00</text>
<text x="1319" y="144" font-size="11.2" fill="#000" stroke="#000" stroke-width="0.2" textLength="30.5" lengthAdjust="spacingAndGlyphs">32.50</text>
<text x="1319" y="126" font-size="11.2" fill="#000" stroke="#000" stroke-width="0.2" textLength="30.5" lengthAdjust="spacingAndGlyphs">33.00</text>
<text x="1319" y="109" font-size="11.2" fill="#000" stroke="#000" stroke-width="0.2" textLength="30.5" lengthAdjust="spacingAndGlyphs">33.50</text>
<text x="1319" y="92" font-size="11.2" fill="#000" stroke="#000" stroke-width="0.2" textLength="30.5" lengthAdjust="spacingAndGlyphs">34.00</text>
<text x="1319" y="76" font-size="11.2" fill="#000" stroke="#000" stroke-width="0.2" textLength="30.5" lengthAdjust="spacingAndGlyphs">34.50</text>
<text x="1319" y="59" font-size="11.2" fill="#000" stroke="#000" stroke-width="0.2" textLength="30.5" lengthAdjust="spacingAndGlyphs">35.00</text>
<text x="1319" y="43" font-size="11.2" fill="#000" stroke="#000" stroke-width="0.2" textLength="30.5" lengthAdjust="spacingAndGlyphs">35.50</text>
<g shape-rendering="crispEdges">
<rect x="1311.5" y="692.5" width="40" height="14" fill="#ffb4b4" stroke="#000" stroke-width="1"/>
</g>
<text x="1317.5" y="703" font-size="11.2" fill="#000" stroke="#000" stroke-width="0.2" textLength="30.5" lengthAdjust="spacingAndGlyphs">20.06</text>
<text x="1319" y="815" font-size="11.2" fill="#000" stroke="#000" stroke-width="0.2" textLength="30.5" lengthAdjust="spacingAndGlyphs">2.000</text>
<text x="1319" y="843" font-size="11.2" fill="#000" stroke="#000" stroke-width="0.2" textLength="30.5" lengthAdjust="spacingAndGlyphs">1.500</text>
<text x="1319" y="871" font-size="11.2" fill="#000" stroke="#000" stroke-width="0.2" textLength="30.5" lengthAdjust="spacingAndGlyphs">1.000</text>
<text x="1319" y="899" font-size="11.2" fill="#000" stroke="#000" stroke-width="0.2" textLength="30.5" lengthAdjust="spacingAndGlyphs">0.500</text>
<text x="1319" y="927" font-size="11.2" fill="#000" stroke="#000" stroke-width="0.2" textLength="30.5" lengthAdjust="spacingAndGlyphs">0.000</text>
<text x="1319" y="955" font-size="11.2" fill="#000" stroke="#000" stroke-width="0.2" textLength="35.5" lengthAdjust="spacingAndGlyphs">-0.500</text>
<text x="1319" y="983" font-size="11.2" fill="#000" stroke="#000" stroke-width="0.2" textLength="35.5" lengthAdjust="spacingAndGlyphs">-1.000</text>
<text x="1319" y="1011" font-size="11.2" fill="#000" stroke="#000" stroke-width="0.2" textLength="35.5" lengthAdjust="spacingAndGlyphs">-1.500</text>
<text x="2.5" y="781.3" font-size="11.5" fill="#000" stroke="#000" stroke-width="0.12" textLength="42.8" lengthAdjust="spacingAndGlyphs">2024Jul</text>
<text x="2.5" y="1035.8" font-size="11.5" fill="#000" stroke="#000" stroke-width="0.12" textLength="42.8" lengthAdjust="spacingAndGlyphs">2024Jul</text>
<text x="86.0" y="781.3" font-size="11.5" fill="#000" stroke="#000" stroke-width="0.12" textLength="22.5" lengthAdjust="spacingAndGlyphs">Aug</text>
<text x="86.0" y="1035.8" font-size="11.5" fill="#000" stroke="#000" stroke-width="0.12" textLength="22.5" lengthAdjust="spacingAndGlyphs">Aug</text>
<text x="157.2" y="781.3" font-size="11.5" fill="#000" stroke="#000" stroke-width="0.12" textLength="22" lengthAdjust="spacingAndGlyphs">Sep</text>
<text x="157.2" y="1035.8" font-size="11.5" fill="#000" stroke="#000" stroke-width="0.12" textLength="22" lengthAdjust="spacingAndGlyphs">Sep</text>
<text x="246.5" y="781.3" font-size="11.5" fill="#000" stroke="#000" stroke-width="0.12" textLength="19.3" lengthAdjust="spacingAndGlyphs">Oct</text>
<text x="246.5" y="1035.8" font-size="11.5" fill="#000" stroke="#000" stroke-width="0.12" textLength="19.3" lengthAdjust="spacingAndGlyphs">Oct</text>
<text x="315.2" y="781.3" font-size="11.5" fill="#000" stroke="#000" stroke-width="0.12" textLength="22" lengthAdjust="spacingAndGlyphs">Nov</text>
<text x="315.2" y="1035.8" font-size="11.5" fill="#000" stroke="#000" stroke-width="0.12" textLength="22" lengthAdjust="spacingAndGlyphs">Nov</text>
<text x="385.8" y="781.3" font-size="11.5" fill="#000" stroke="#000" stroke-width="0.12" textLength="22.7" lengthAdjust="spacingAndGlyphs">Dec</text>
<text x="385.8" y="1035.8" font-size="11.5" fill="#000" stroke="#000" stroke-width="0.12" textLength="22.7" lengthAdjust="spacingAndGlyphs">Dec</text>
<text x="461.6" y="781.3" font-size="11.5" fill="#000" stroke="#000" stroke-width="0.12" textLength="47.3" lengthAdjust="spacingAndGlyphs">2025Jan</text>
<text x="461.6" y="1035.8" font-size="11.5" fill="#000" stroke="#000" stroke-width="0.12" textLength="47.3" lengthAdjust="spacingAndGlyphs">2025Jan</text>
<text x="546.3" y="781.3" font-size="11.5" fill="#000" stroke="#000" stroke-width="0.12" textLength="19.8" lengthAdjust="spacingAndGlyphs">Feb</text>
<text x="546.3" y="1035.8" font-size="11.5" fill="#000" stroke="#000" stroke-width="0.12" textLength="19.8" lengthAdjust="spacingAndGlyphs">Feb</text>
<text x="615.2" y="781.3" font-size="11.5" fill="#000" stroke="#000" stroke-width="0.12" textLength="22" lengthAdjust="spacingAndGlyphs">Mar</text>
<text x="615.2" y="1035.8" font-size="11.5" fill="#000" stroke="#000" stroke-width="0.12" textLength="22" lengthAdjust="spacingAndGlyphs">Mar</text>
<text x="704.0" y="781.3" font-size="11.5" fill="#000" stroke="#000" stroke-width="0.12" textLength="20.5" lengthAdjust="spacingAndGlyphs">Apr</text>
<text x="704.0" y="1035.8" font-size="11.5" fill="#000" stroke="#000" stroke-width="0.12" textLength="20.5" lengthAdjust="spacingAndGlyphs">Apr</text>
<text x="773.7" y="781.3" font-size="11.5" fill="#000" stroke="#000" stroke-width="0.12" textLength="23" lengthAdjust="spacingAndGlyphs">May</text>
<text x="773.7" y="1035.8" font-size="11.5" fill="#000" stroke="#000" stroke-width="0.12" textLength="23" lengthAdjust="spacingAndGlyphs">May</text>
<text x="845.2" y="781.3" font-size="11.5" fill="#000" stroke="#000" stroke-width="0.12" textLength="20" lengthAdjust="spacingAndGlyphs">Jun</text>
<text x="845.2" y="1035.8" font-size="11.5" fill="#000" stroke="#000" stroke-width="0.12" textLength="20" lengthAdjust="spacingAndGlyphs">Jun</text>
<text x="935.7" y="781.3" font-size="11.5" fill="#000" stroke="#000" stroke-width="0.12" textLength="15" lengthAdjust="spacingAndGlyphs">Jul</text>
<text x="935.7" y="1035.8" font-size="11.5" fill="#000" stroke="#000" stroke-width="0.12" textLength="15" lengthAdjust="spacingAndGlyphs">Jul</text>
<text x="1003.0" y="781.3" font-size="11.5" fill="#000" stroke="#000" stroke-width="0.12" textLength="22.5" lengthAdjust="spacingAndGlyphs">Aug</text>
<text x="1003.0" y="1035.8" font-size="11.5" fill="#000" stroke="#000" stroke-width="0.12" textLength="22.5" lengthAdjust="spacingAndGlyphs">Aug</text>
<text x="1074.2" y="781.3" font-size="11.5" fill="#000" stroke="#000" stroke-width="0.12" textLength="22" lengthAdjust="spacingAndGlyphs">Sep</text>
<text x="1074.2" y="1035.8" font-size="11.5" fill="#000" stroke="#000" stroke-width="0.12" textLength="22" lengthAdjust="spacingAndGlyphs">Sep</text>
<text x="1163.5" y="781.3" font-size="11.5" fill="#000" stroke="#000" stroke-width="0.12" textLength="19.3" lengthAdjust="spacingAndGlyphs">Oct</text>
<text x="1163.5" y="1035.8" font-size="11.5" fill="#000" stroke="#000" stroke-width="0.12" textLength="19.3" lengthAdjust="spacingAndGlyphs">Oct</text>
<text x="1232.2" y="781.3" font-size="11.5" fill="#000" stroke="#000" stroke-width="0.12" textLength="22" lengthAdjust="spacingAndGlyphs">Nov</text>
<text x="1232.2" y="1035.8" font-size="11.5" fill="#000" stroke="#000" stroke-width="0.12" textLength="22" lengthAdjust="spacingAndGlyphs">Nov</text>
<text x="2.5" y="10.8" font-size="11.5" fill="#000" stroke="#000" stroke-width="0.2" textLength="38" lengthAdjust="spacingAndGlyphs" font-weight="bold">(GME)</text>
<text x="5.8" y="24.8" font-size="10" fill="#005000" stroke="#005000" stroke-width="0.1" textLength="19.7" lengthAdjust="spacingAndGlyphs">GME</text>
<text x="33.5" y="24.8" font-size="10" fill="#0000ff" stroke="#0000ff" stroke-width="0.1" textLength="27" lengthAdjust="spacingAndGlyphs">MA(3)</text>
<text x="69.5" y="24.8" font-size="10" fill="#0000ff" stroke="#0000ff" stroke-width="0.1" textLength="26.5" lengthAdjust="spacingAndGlyphs">20.74</text>
<text x="5.5" y="795" font-size="10" fill="#000" stroke="#000" stroke-width="0.1" textLength="70" lengthAdjust="spacingAndGlyphs">MACD(26,12,9)</text>
<text x="87.5" y="795" font-size="10" fill="#0000ff" stroke="#0000ff" stroke-width="0.1" textLength="61.7" lengthAdjust="spacingAndGlyphs">MACD:-0.694</text>
<text x="1277.5" y="1052" font-size="11" fill="#000" stroke="#000" stroke-width="0.2" textLength="82" lengthAdjust="spacingAndGlyphs">&#169;12Stocks.com</text>
</svg>
</body>
</html>
